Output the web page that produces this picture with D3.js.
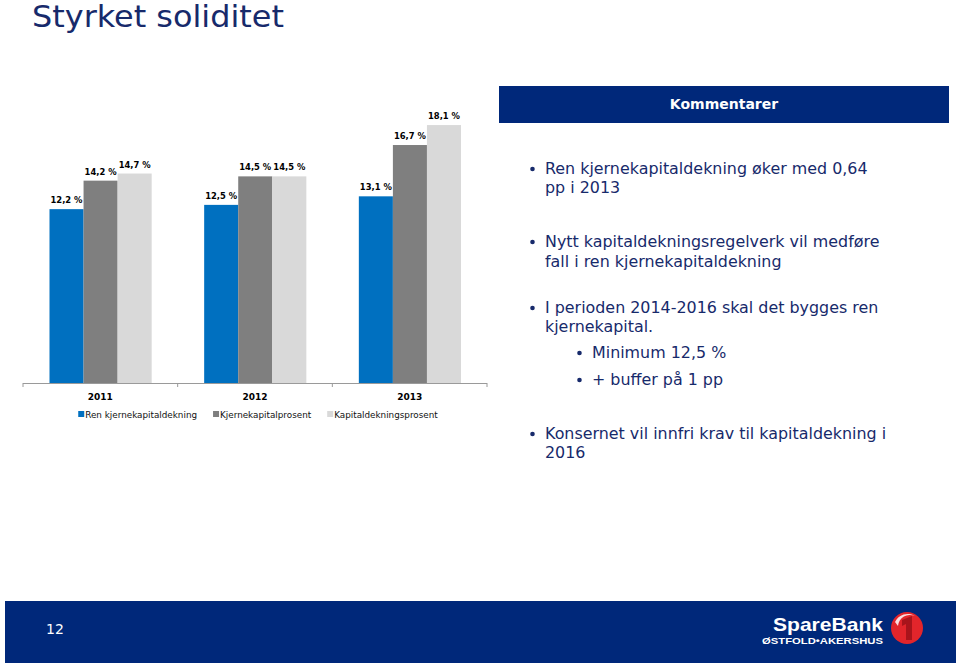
<!DOCTYPE html>
<html><head><meta charset="utf-8">
<script src="https://cdn.jsdelivr.net/npm/d3@7"></script>
<style>
html,body{margin:0;padding:0;background:#fff;}
svg{display:block;font-family:"DejaVu Sans",Verdana,sans-serif;}
</style></head>
<body>
<svg id="c" width="960" height="666"></svg>
<script>
const categories = ["2011", "2012", "2013"];
const seriesNames = ["Ren kjernekapitaldekning", "Kjernekapitalprosent", "Kapitaldekningsprosent"];
const renKjerne = [12.2, 12.5, 13.1];
const kjerneProsent = [14.2, 14.5, 16.7];
const kapitalProsent = [14.7, 14.5, 18.1];
const seriesColors = ["#0070C0", "#7F7F7F", "#D9D9D9"];
const title = "Styrket soliditet";
const pageNumber = "12";
const bullets = [
  {level: 1, lines: ["Ren kjernekapitaldekning øker med 0,64", "pp i 2013"]},
  {level: 1, lines: ["Nytt kapitaldekningsregelverk vil medføre", "fall i ren kjernekapitaldekning"]},
  {level: 1, lines: ["I perioden 2014-2016 skal det bygges ren", "kjernekapital."]},
  {level: 2, lines: ["Minimum 12,5 %"]},
  {level: 2, lines: ["+ buffer på 1 pp"]},
  {level: 1, lines: ["Konsernet vil innfri krav til kapitaldekning i", "2016"]}
];
const bulletBaselines = [[174, 193], [247, 267], [313, 332], [358], [385], [439, 458]];

const seriesData = [renKjerne, kjerneProsent, kapitalProsent];
const navy = "#00287A";
const textNavy = "#172A6B";
const svg = d3.select("#c");

// Title
svg.append("text").attr("x", 32).attr("y", 27).attr("font-size", 29.5)
  .attr("fill", textNavy).attr("textLength", 252).attr("lengthAdjust", "spacingAndGlyphs").text(title);

// Chart
const g = svg.append("g");
const x0 = d3.scaleBand().domain(categories).range([23, 487]);
const x1 = d3.scaleBand().domain(seriesNames).range([26.5, x0.bandwidth() - 26]);
const y = d3.scaleLinear().domain([0, 20]).range([383, 98]);

const groups = g.selectAll("g.grp").data(categories).join("g")
  .attr("transform", d => `translate(${x0(d)},0)`);
groups.selectAll("rect").data((d, i) => seriesNames.map((s, j) => ({s, v: seriesData[j][i], j})))
  .join("rect")
  .attr("x", d => x1(d.s)).attr("width", x1.bandwidth())
  .attr("y", d => y(d.v)).attr("height", d => y(0) - y(d.v))
  .attr("fill", d => seriesColors[d.j]);
groups.selectAll("text.lbl").data((d, i) => seriesNames.map((s, j) => ({s, v: seriesData[j][i], j})))
  .join("text").attr("class", "lbl")
  .attr("x", d => x1(d.s) + x1.bandwidth() / 2).attr("y", d => y(d.v) - 6)
  .attr("text-anchor", "middle").attr("font-size", 8.4).attr("font-weight", "bold")
  .attr("fill", "#000")
  .text(d => d.v.toFixed(1).replace(".", ",") + " %");

// Axis
const ax = g.append("g").attr("transform", `translate(0,${y(0)})`)
  .call(d3.axisBottom(x0).tickSize(0).tickPadding(11));
ax.select(".domain").attr("stroke", "#9a9a9a").attr("d", `M${x0.range()[0]},0.5H${x0.range()[1]}`);
ax.selectAll(".tick text").attr("font-size", 9).attr("font-weight", "bold")
  .attr("fill", "#000").attr("font-family", "DejaVu Sans");
const edges = categories.map(c => x0(c)).concat([x0.range()[1]]);
ax.selectAll("line.edge").data(edges).join("line").attr("class", "edge")
  .attr("x1", d => d).attr("x2", d => d).attr("y1", 0).attr("y2", 4)
  .attr("stroke", "#9a9a9a");

// Legend
const leg = g.append("g").attr("transform", "translate(0,418)");
let lx = 0;
seriesNames.forEach((s, i) => {
  const it = leg.append("g");
  it.append("rect").attr("x", 0).attr("y", -7).attr("width", 6).attr("height", 6).attr("fill", seriesColors[i]);
  const t = it.append("text").attr("x", 7).attr("y", 0).attr("font-size", 8.8).attr("fill", "#111").text(s);
  const w = 7 + t.node().getComputedTextLength();
  it.attr("transform", `translate(${lx},0)`);
  lx += w + 16;
});
const legW = lx - 16;
leg.attr("transform", `translate(${258 - legW / 2},418)`);

// Right panel header
svg.append("rect").attr("x", 499).attr("y", 86).attr("width", 450).attr("height", 37).attr("fill", navy);
svg.append("text").attr("x", 724).attr("y", 109).attr("text-anchor", "middle")
  .attr("font-size", 14).attr("font-weight", "bold").attr("fill", "#fff").text("Kommentarer");

// Bullets
bullets.forEach((b, i) => {
  const bx = b.level === 1 ? 530 : 577;
  const tx = b.level === 1 ? 545 : 592;
  svg.append("circle").attr("cx", bx + 2.5).attr("cy", bulletBaselines[i][0] - 5).attr("r", 2.3).attr("fill", textNavy);
  b.lines.forEach((ln, k) => {
    svg.append("text").attr("x", tx).attr("y", bulletBaselines[i][k])
      .attr("font-size", 15.9).attr("fill", textNavy).text(ln);
  });
});

// Footer
svg.append("rect").attr("x", 5).attr("y", 601).attr("width", 951).attr("height", 62).attr("fill", navy);
svg.append("text").attr("x", 46).attr("y", 634).attr("font-size", 14).attr("fill", "#fff").text(pageNumber);
svg.append("text").attr("x", 773).attr("y", 631).attr("font-family", "Liberation Sans, Arial, sans-serif")
  .attr("font-weight", "bold").attr("font-size", 19).attr("fill", "#fff")
  .attr("textLength", 110).attr("lengthAdjust", "spacingAndGlyphs").text("SpareBank");
svg.append("text").attr("x", 762).attr("y", 644).attr("font-family", "Liberation Sans, Arial, sans-serif")
  .attr("font-weight", "bold").attr("font-size", 9.5).attr("fill", "#fff")
  .attr("textLength", 121).attr("lengthAdjust", "spacingAndGlyphs").text("ØSTFOLD•AKERSHUS");
svg.append("circle").attr("cx", 907).attr("cy", 628).attr("r", 16).attr("fill", "#E2252B");
svg.append("path").attr("d", "M895,622 A14,14 0 0 1 915,616 A12,12 0 0 0 898,626 Z").attr("fill", "#fff").attr("opacity", 0.85);
svg.append("path").attr("d", "M902,620 L912,616 L912,640 L906,640 L906,624 L902,626 Z").attr("fill", "#A8141B");
</script>
</body></html>
